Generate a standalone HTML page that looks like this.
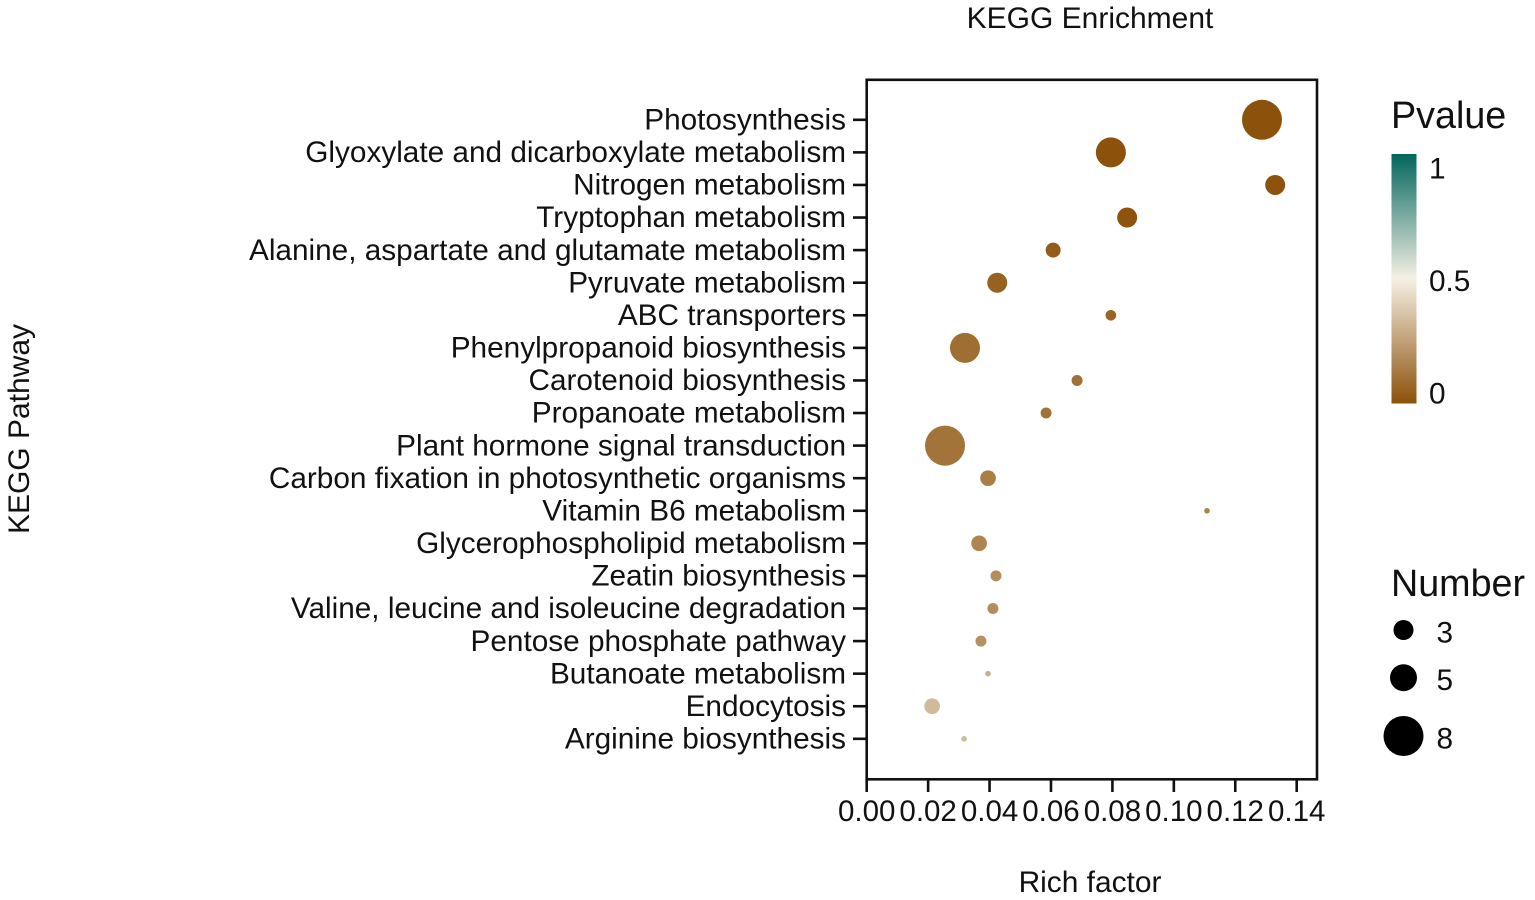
<!DOCTYPE html>
<html>
<head>
<meta charset="utf-8">
<title>KEGG Enrichment</title>
<style>
html,body{margin:0;padding:0;background:#fff;width:1535px;height:900px;overflow:hidden}
svg{display:block;filter:blur(0.35px)}
text{font-family:"Liberation Sans",sans-serif;fill:#111}
</style>
</head>
<body>
<svg id="chart" xmlns="http://www.w3.org/2000/svg" width="1535" height="900" viewBox="0 0 1535 900">
  <defs>
    <linearGradient id="pvalue-gradient" x1="0" y1="1" x2="0" y2="0">
      <stop offset="0" stop-color="#8c510a"/>
      <stop offset="0.5" stop-color="#f5f0e4"/>
      <stop offset="1" stop-color="#01665e"/>
    </linearGradient>
  </defs>
  <text x="1090" y="28" font-size="30" text-anchor="middle">KEGG Enrichment</text>
  <text transform="translate(29,429) rotate(-90)" font-size="30" text-anchor="middle">KEGG Pathway</text>
  <text x="1090" y="892" font-size="29.9" text-anchor="middle">Rich factor</text>
  <g id="ticks"></g>
  <g id="points"></g>
  <rect x="866.7" y="79.8" width="450.3" height="699.5" fill="none" stroke="#111" stroke-width="2.6"/>
  <text x="1391" y="128" font-size="37.7">Pvalue</text>
  <rect x="1391.5" y="154" width="25" height="249.5" fill="url(#pvalue-gradient)"/>
  <g id="colorbar-labels"></g>
  <text x="1391" y="596" font-size="37.7">Number</text>
  <g id="size-legend"></g>
</svg>
<script>
const categories = ["Photosynthesis","Glyoxylate and dicarboxylate metabolism","Nitrogen metabolism","Tryptophan metabolism","Alanine, aspartate and glutamate metabolism","Pyruvate metabolism","ABC transporters","Phenylpropanoid biosynthesis","Carotenoid biosynthesis","Propanoate metabolism","Plant hormone signal transduction","Carbon fixation in photosynthetic organisms","Vitamin B6 metabolism","Glycerophospholipid metabolism","Zeatin biosynthesis","Valine, leucine and isoleucine degradation","Pentose phosphate pathway","Butanoate metabolism","Endocytosis","Arginine biosynthesis"];
const richFactor = [0.1287,0.0795,0.133,0.0848,0.0607,0.0425,0.0795,0.032,0.0685,0.0584,0.0255,0.0395,0.1108,0.0366,0.0421,0.0411,0.0372,0.0395,0.0213,0.0317];
const pvalue = [0,0.002,0.005,0.01,0.035,0.05,0.06,0.09,0.1,0.1,0.11,0.14,0.15,0.16,0.19,0.19,0.2,0.3,0.33,0.33];
const number = [8,5.7,3,3,2.3,3,1.7,5.7,1.75,1.75,8,2.4,1,2.4,1.75,1.75,1.75,1,2.4,1];
const xTicks = [0,0.02,0.04,0.06,0.08,0.1,0.12,0.14];
const pvalueTicks = [1,0.5,0];
const numberLegend = [3,5,8];

const NS = "http://www.w3.org/2000/svg";
function xScale(v){ return 866.7 + v * 3071.4; }
function yScale(i){ return 119.8 + i * 32.58; }
function pScale(p){ return 393 - p * 225; }
function rScale(n){
  const d = [1,3,5,8], r = [2.8,10,13.5,20];
  for (let i = 0; i < 3; i++) {
    if (n <= d[i+1]) return r[i] + (n - d[i]) / (d[i+1] - d[i]) * (r[i+1] - r[i]);
  }
  return r[3] + (n - 8) * 2.17;
}
function colorScale(p){
  const a = p < 0.5 ? [140,81,10] : [245,240,228];
  const b = p < 0.5 ? [245,240,228] : [1,102,94];
  const t = p < 0.5 ? p / 0.5 : (p - 0.5) / 0.5;
  return "rgb(" + a.map((c,i) => Math.round(c + (b[i] - c) * t)).join(",") + ")";
}
function make(tag, attrs, parent, content){
  const el = document.createElementNS(NS, tag);
  for (const k in attrs) el.setAttribute(k, attrs[k]);
  if (content !== undefined) el.textContent = content;
  parent.appendChild(el);
  return el;
}
const ticksG = document.getElementById("ticks");
const pointsG = document.getElementById("points");
categories.forEach((name, i) => {
  const y = yScale(i);
  const tick = make("line", {x1:853, x2:866.7, y1:y, y2:y, stroke:"#111", "stroke-width":2.6}, ticksG);
  
  
  const label = make("text", {x:846, y:y + 9.7, "font-size":29.75, "text-anchor":"end"}, ticksG, name);
  
  
  const dot = make("circle", {cx:xScale(richFactor[i]), cy:y, r:rScale(number[i]), fill:colorScale(pvalue[i])}, pointsG);
  
  
});
xTicks.forEach(v => {
  const x = xScale(v);
  const tick = make("line", {x1:x, x2:x, y1:779.3, y2:792, stroke:"#111", "stroke-width":2.6}, ticksG);
  
  
  const label = make("text", {x:x, y:821, "font-size":29.5, "text-anchor":"middle"}, ticksG, v.toFixed(2));
  
  
});
const cbG = document.getElementById("colorbar-labels");
pvalueTicks.forEach(p => {
  const label = make("text", {x:1429, y:pScale(p) + 10.5, "font-size":29.75}, cbG, String(p));
  
  
});
const sizeG = document.getElementById("size-legend");
const legendY = [630, 677.7, 736];
numberLegend.forEach((n, i) => {
  const dot = make("circle", {cx:1403.5, cy:legendY[i], r:rScale(n), fill:"#000"}, sizeG);
  
  
  const label = make("text", {x:1436.5, y:legendY[i] + 12.5, "font-size":29.75}, sizeG, String(n));
  
  
});
</script>
</body>
</html>
